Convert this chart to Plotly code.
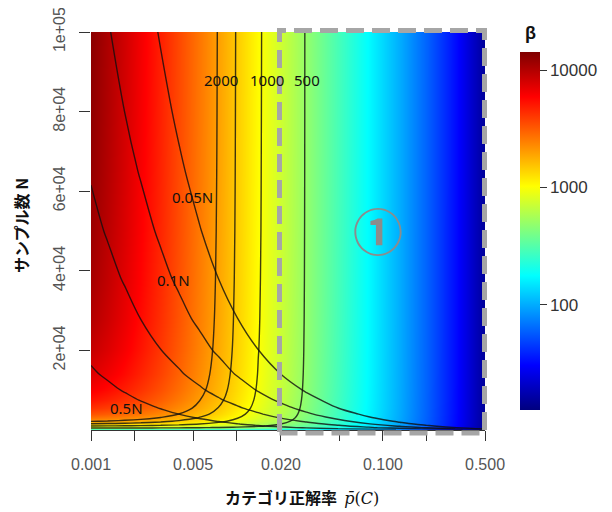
import numpy as np
import plotly.graph_objects as go

# category accuracy p(C) (x) and sample size N (y)
p_values = [0.001, 0.0013, 0.0017, 0.0022, 0.003, 0.004, 0.0055, 0.0075, 0.01,
            0.014, 0.02, 0.03, 0.05, 0.08, 0.13, 0.2, 0.32, 0.5]
n_values = [100, 300, 600, 1000, 1500, 2200, 3000, 4000, 5500, 7500, 10000,
            14000, 20000, 28000, 38000, 50000, 65000, 80000, 100000]

# beta values, one row per N (ascending), one column per p
beta_table = [
    [106.3, 106.0, 105.6, 105.3, 104.6, 103.8, 102.5, 100.9, 99.0, 96.0, 91.9, 85.6, 75.0, 62.7, 48.3, 35.3, 22.2, 11.7],
    [314.4, 312.3, 309.5, 306.3, 301.1, 294.9, 286.0, 274.9, 262.1, 243.8, 220.5, 189.8, 147.4, 108.9, 73.9, 48.6, 27.8, 13.7],
    [615.8, 608.1, 598.0, 586.3, 567.9, 546.6, 517.5, 482.9, 445.5, 396.2, 339.2, 272.8, 194.3, 133.5, 85.1, 53.7, 29.7, 14.3],
    [999, 979.1, 953.5, 924.1, 879.7, 830.0, 765.1, 692.6, 618.8, 528.2, 432.4, 330.7, 222.7, 146.8, 90.6, 56.1, 30.5, 14.6],
    [1450, 1409, 1357, 1298, 1213, 1121, 1006, 884.6, 768.1, 633.9, 501.1, 369.9, 240.2, 154.5, 93.7, 57.3, 31.0, 14.7],
    [2035, 1955, 1857, 1748, 1597, 1442, 1257, 1074, 907.5, 726.3, 557.6, 400.1, 252.8, 159.8, 95.7, 58.1, 31.3, 14.8],
    [2644, 2511, 2352, 2180, 1951, 1724, 1467, 1224, 1012.5, 792.3, 595.9, 419.7, 260.7, 163.0, 96.9, 58.6, 31.4, 14.9],
    [3330, 3121, 2880, 2626, 2301, 1992, 1658, 1353, 1100, 845.1, 625.5, 434.3, 266.4, 165.3, 97.8, 59.0, 31.5, 14.9],
    [4227, 3896, 3527, 3154, 2697, 2283, 1854, 1482, 1184, 893.9, 652.0, 447.1, 271.2, 167.2, 98.5, 59.2, 31.6, 14.9],
    [5227, 4731, 4199, 3680, 3073, 2547, 2025, 1589, 1251, 932.1, 672.3, 456.6, 274.7, 168.6, 99.0, 59.4, 31.7, 14.9],
    [6244, 5548, 4830, 4158, 3399, 2767, 2162, 1673, 1303, 960.4, 686.9, 463.4, 277.2, 169.5, 99.3, 59.6, 31.7, 15.0],
    [7493, 6513, 5546, 4677, 3739, 2988, 2295, 1751, 1350, 986.0, 700.0, 469.4, 279.4, 170.4, 99.6, 59.7, 31.8, 15.0],
    [8815, 7490, 6239, 5161, 4042, 3179, 2406, 1816, 1388, 1006, 710.1, 473.9, 281.1, 171.0, 99.8, 59.8, 31.8, 15.0],
    [9990, 8323, 6807, 5543, 4273, 3320, 2486, 1861, 1414, 1020, 717.1, 477.0, 282.2, 171.4, 100.0, 59.9, 31.8, 15.0],
    [10951, 8979, 7240, 5827, 4440, 3420, 2542, 1892, 1432, 1029, 721.7, 479.1, 282.9, 171.7, 100.1, 59.9, 31.8, 15.0],
    [11707, 9481, 7563, 6035, 4559, 3491, 2581, 1914, 1445, 1036, 724.9, 480.5, 283.4, 171.9, 100.2, 59.9, 31.8, 15.0],
    [12330, 9886, 7818, 6197, 4651, 3544, 2610, 1930, 1454, 1040, 727.2, 481.5, 283.8, 172.0, 100.2, 59.9, 31.9, 15.0],
    [12753, 10156, 7986, 6302, 4710, 3578, 2629, 1940, 1459, 1043, 728.6, 482.2, 284.0, 172.1, 100.2, 59.9, 31.9, 15.0],
    [13145, 10403, 8138, 6396, 4763, 3609, 2645, 1949, 1464.5, 1046, 729.9, 482.7, 284.2, 172.2, 100.3, 60.0, 31.9, 15.0],
]

beta_levels = [500, 1000, 1500, 2000]
ratio_levels = [0.05, 0.1, 0.2, 0.5]

beta_labels = ["2000", "1000", "500"]
beta_label_p = [0.0078, 0.016, 0.0301]
beta_label_n = [88000, 88000, 88000]
ratio_labels = ["0.05N", "0.1N", "0.5N"]
ratio_label_p = [0.00492, 0.0037, 0.00176]
ratio_label_n = [58600, 37700, 5500]

x_tick_vals = [0.001, 0.002, 0.005, 0.01, 0.02, 0.05, 0.1, 0.2, 0.5]
x_tick_text = ["0.001", "", "0.005", "", "0.020", "", "0.100", "", "0.500"]
y_tick_vals = [20000, 40000, 60000, 80000, 100000]
y_tick_text = ["2e+04", "4e+04", "6e+04", "8e+04", "1e+05"]
cbar_vals = [100, 1000, 10000]
beta_min, beta_max = 12.7, 14250

jet = ["#00007F", "#0000FF", "#007FFF", "#00FFFF", "#7FFF7F",
       "#FFFF00", "#FF7F00", "#FF0000", "#7F0000"]
colorscale = [[i / (len(jet) - 1), c] for i, c in enumerate(jet)]

beta = np.array(beta_table, dtype=float)
ratio = beta / np.array(n_values, dtype=float)[:, None]

# plot area in page pixels: x 91..485, y 32..430 (page has an 8px body margin)
PL, PR, PT, PB = 91, 485, 32, 430
W, H = PR - PL, PB - PT


def px(x):
    return (x - PL) / W


def py(y):
    return (PB - y) / H


fig = go.Figure()

fig.add_trace(go.Heatmap(
    x=p_values, y=n_values, z=np.log10(beta),
    colorscale=colorscale, zmin=np.log10(beta_min), zmax=np.log10(beta_max),
    zsmooth="best", hoverinfo="skip",
    colorbar=dict(
        thickness=20, thicknessmode="pixels", len=358, lenmode="pixels",
        x=px(520), xanchor="left", xpad=0,
        y=py(231), yanchor="middle", ypad=0,
        tickvals=list(np.log10(cbar_vals)), ticktext=[str(v) for v in cbar_vals],
        ticks="outside", ticklen=7, tickcolor="#333", tickwidth=1,
        tickfont=dict(family="Liberation Sans, Arial", size=17, color="#333"),
        outlinewidth=0,
    ),
))

line_style = dict(color="rgba(15,15,15,0.8)", width=1.4)

fig.add_trace(go.Contour(
    x=p_values, y=n_values, z=beta,
    contours=dict(start=beta_levels[0], end=beta_levels[-1],
                  size=beta_levels[1] - beta_levels[0], coloring="none"),
    line=line_style, showscale=False, hoverinfo="skip",
))

for lv in ratio_levels:
    fig.add_trace(go.Contour(
        x=p_values, y=n_values, z=ratio,
        contours=dict(start=lv, end=lv, size=1, coloring="none"),
        line=line_style, showscale=False, hoverinfo="skip",
    ))

annotations = []
for t, pp, ny in zip(beta_labels + ratio_labels, beta_label_p + ratio_label_p,
                     beta_label_n + ratio_label_n):
    annotations.append(dict(x=np.log10(pp), y=ny, xref="x", yref="y", text=t,
                            showarrow=False, xanchor="center", yanchor="middle",
                            font=dict(family="Noto Sans, Liberation Sans", size=15, color="#111")))

annotations.append(dict(x=px(378), y=py(229), xref="paper", yref="paper",
                        text="<b>①</b>", showarrow=False, xanchor="center", yanchor="middle",
                        font=dict(family="Noto Sans CJK JP", size=50, color="#8C8C8C")))
annotations.append(dict(x=px(302), y=py(497), xref="paper", yref="paper",
                        text="<b>カテゴリ正解率</b>  <span style='font-family:DejaVu Serif'><i>p̄</i>(<i>C</i>)</span>",
                        showarrow=False, xanchor="center", yanchor="middle",
                        font=dict(family="Noto Sans CJK JP", size=16, color="#111")))
annotations.append(dict(x=px(21), y=py(226), xref="paper", yref="paper",
                        text="<b>サンプル数 N</b>", textangle=-90, showarrow=False,
                        xanchor="center", yanchor="middle",
                        font=dict(family="Noto Sans CJK JP", size=16, color="#111")))
annotations.append(dict(x=px(530), y=py(33), xref="paper", yref="paper",
                        text="<b>β</b>", showarrow=False, xanchor="center", yanchor="middle",
                        font=dict(family="Liberation Sans, Arial", size=18, color="#111")))

fig.update_layout(
    width=612 - 8, height=512 - 8,
    margin=dict(l=PL - 8, r=612 - PR, t=PT - 8, b=512 - PB, autoexpand=False),
    paper_bgcolor="white", plot_bgcolor="white",
    showlegend=False,
    annotations=annotations,
    shapes=[dict(type="rect", xref="paper", yref="paper",
                 x0=px(279.5), x1=px(484.5), y0=py(433), y1=py(30.5),
                 line=dict(color="#A6A6A6", width=5, dash="18px,8px"),
                 layer="above")],
    xaxis=dict(type="log", range=[np.log10(0.001), np.log10(0.5)],
               tickvals=x_tick_vals, ticktext=x_tick_text,
               ticks="outside", ticklen=10, tickcolor="#333",
               showline=True, linecolor="#333", linewidth=1,
               showgrid=False, zeroline=False, ticklabelstandoff=10,
               ticklabeloverflow="allow", automargin=False,
               tickfont=dict(family="Liberation Sans, Arial", size=16, color="#555")),
    yaxis=dict(range=[0, 100000],
               tickvals=y_tick_vals, ticktext=y_tick_text, tickangle=-90,
               ticks="outside", ticklen=11, tickcolor="#333",
               showline=False, showgrid=False, zeroline=False, ticklabelstandoff=8,
               ticklabeloverflow="allow", automargin=False,
               tickfont=dict(family="Liberation Sans, Arial", size=16, color="#555")),
)

fig.write_html("out.html")
